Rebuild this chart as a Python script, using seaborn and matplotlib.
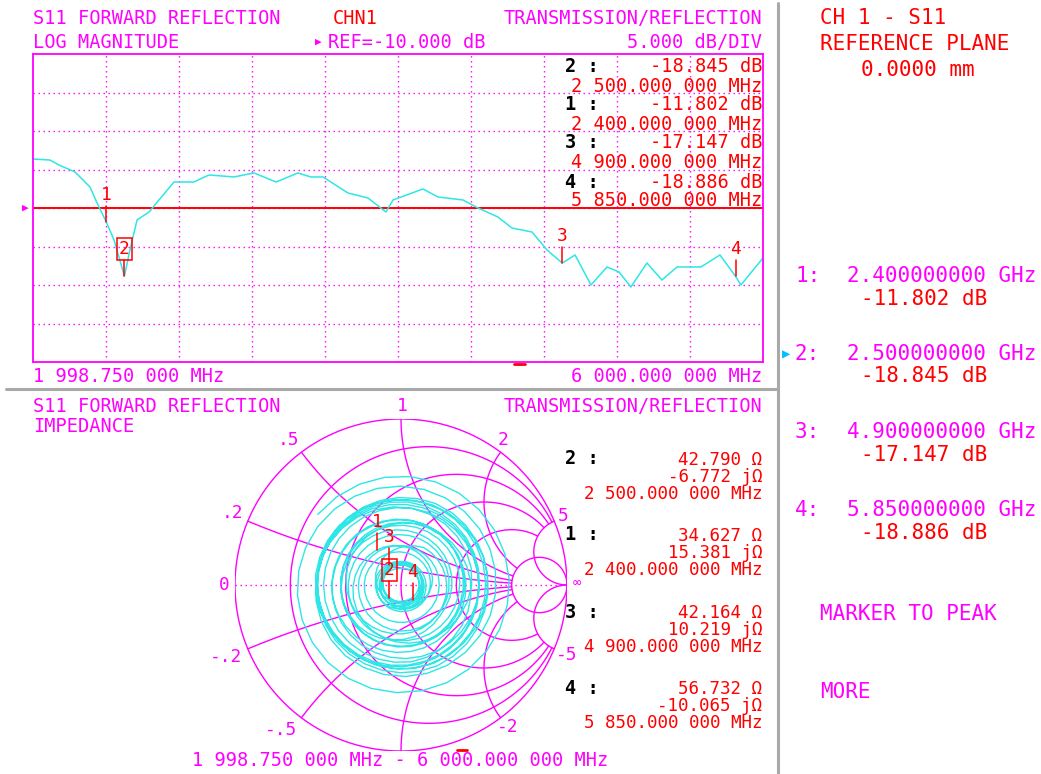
import numpy as np
import pandas as pd
import matplotlib
matplotlib.use("Agg")
import matplotlib.pyplot as plt
import seaborn as sns

# ---------------- data ----------------
start_mhz, stop_mhz = 1998.75, 6000.0
ref_db, db_per_div = -10.0, 5.0

freq_mhz = [1998.75, 2092, 2141, 2229, 2311, 2350, 2400, 2443, 2500, 2530, 2569, 2635,
            2689, 2772, 2881, 2963, 3100, 3210, 3331, 3451, 3522, 3588, 3725, 3835,
            3933, 3972, 4136, 4219, 4356, 4438, 4547, 4624, 4734, 4816, 4900, 4970,
            5057, 5145, 5211, 5276, 5364, 5446, 5529, 5660, 5764, 5850, 5879, 6000]
s11_db = [-3.64, -3.77, -4.42, -5.32, -7.27, -9.35, -11.80, -14.16, -18.85, -15.45, -11.56, -10.52,
          -8.96, -6.62, -6.62, -5.71, -5.97, -5.45, -6.62, -5.45, -5.97, -5.97, -8.05, -8.70,
          -10.52, -8.96, -7.53, -8.57, -8.96, -10.00, -11.17, -12.60, -13.12, -15.45, -17.15, -16.10,
          -20.00, -17.66, -18.31, -20.26, -17.14, -19.35, -17.66, -17.66, -16.10, -18.89, -20.00, -16.49]

marker_ids = ["1", "2", "3", "4"]
marker_freq_mhz = [2400.0, 2500.0, 4900.0, 5850.0]
marker_db = [-11.802, -18.845, -17.147, -18.886]
marker_r_ohm = [34.627, 42.790, 42.164, 56.732]
marker_x_ohm = [15.381, -6.772, 10.219, -10.065]
active_marker = "2"
readout_order = ["2", "1", "3", "4"]

# phase of S11 (unwrapped, degrees) at the trace start and at the markers,
# read from the Smith chart / marker impedances
phase_anchor_mhz = [1998.75, 2400.0, 2500.0, 4900.0, 5850.0, 6000.0]
phase_anchor_deg = [139.7, -955.3, -1212.7, -7078.9, -9410.9, -9778.0]
sweep_points = 801

smith_r_circles = [0.2, 0.5, 1.0, 2.0, 5.0]
smith_x_arcs = [0.2, 0.5, 1.0, 2.0, 5.0]
smith_labels = [("1", 402, 406), (".5", 288, 440), ("2", 503, 440), (".2", 232, 513),
                ("5", 563, 516), ("0", 224, 585), ("\u221e", 577, 583), ("-.2", 226, 657),
                ("-5", 567, 655), ("-.5", 281, 730), ("-2", 508, 727)]

# ---------------- style ----------------
W, H = 1041, 774
MAG = "#FF00FF"
RED = "#FF0000"
CYAN = "#2EE6E6"
GREY = "#A9A9A9"
FS = 13.4
FS_S = 12.6
FS_R = 15.0

sns.set_theme(style="white")
plt.rcParams["font.family"] = ["DejaVu Sans Mono", "DejaVu Sans"]

fig = plt.figure(figsize=(W / 100, H / 100), dpi=100, facecolor="white")


def rect(l, t, r, b):
    return [l / W, 1 - b / H, (r - l) / W, (b - t) / H]


ov = fig.add_axes([0, 0, 1, 1])
ov.set_xlim(0, W)
ov.set_ylim(H, 0)
ov.axis("off")


def T(x, y, s, c=MAG, ha="left", fs=FS, w="normal"):
    ov.text(x, y, s, color=c, ha=ha, va="center", fontsize=fs, fontweight=w)


def fmt_mhz(f):
    s = f"{f:,.6f}".replace(",", " ")
    a, b = s.split(".")
    return f"{a}.{b[:3]} {b[3:]} MHz"


# separators
ov.plot([778, 778], [3, H], color=GREY, lw=2.2)
ov.plot([6, 778], [389, 389], color=GREY, lw=2.2)

# ---------------- top: log magnitude ----------------
ax = fig.add_axes(rect(33, 54, 763, 362))
ax.set_facecolor("none")
ylo, yhi = ref_db - 4 * db_per_div, ref_db + 4 * db_per_div
dots = (0, (1, 2.6))
for i in range(1, 10):
    ax.axvline(start_mhz + i * (stop_mhz - start_mhz) / 10, color=MAG, lw=1, ls=dots)
for j in range(1, 8):
    ax.axhline(ylo + j * db_per_div, color=MAG, lw=1, ls=dots)
ax.axhline(ref_db, color=RED, lw=1.4)
df = pd.DataFrame({"MHz": freq_mhz, "dB": s11_db})
sns.lineplot(data=df, x="MHz", y="dB", ax=ax, color=CYAN, lw=1.1, estimator=None, sort=False)
ax.set_xlim(start_mhz, stop_mhz)
ax.set_ylim(ylo, yhi)
ax.set(xlabel="", ylabel="", xticks=[], yticks=[])
for sp in ax.spines.values():
    sp.set_visible(True)
    sp.set_color(MAG)
    sp.set_linewidth(1.3)

px_per_db = 308 / (8 * db_per_div)
for m, f, d in zip(marker_ids, marker_freq_mhz, marker_db):
    ax.plot([f, f], [d, d + 16 / px_per_db], color=RED, lw=1.1)
    bbox = dict(boxstyle="square,pad=0.12", fc="none", ec=RED, lw=1.1) if m == active_marker else None
    ax.annotate(m, (f, d), xytext=(0, 27), textcoords="offset pixels", ha="center", va="center",
                color=RED, fontsize=FS - 0.5, bbox=bbox)

# top header texts
T(33, 19, "S11 FORWARD REFLECTION")
T(33, 42, "LOG MAGNITUDE")
T(333, 19, "CHN1", RED)
T(318, 42, "\u25B6", MAG, ha="center", fs=8)
T(328, 42, f"REF={ref_db:.3f} dB")
T(762, 19, "TRANSMISSION/REFLECTION", ha="right")
T(762, 42, f"{db_per_div:.3f} dB/DIV", ha="right")
T(25, 208, "\u25B6", MAG, ha="center", fs=8)
T(33, 377, fmt_mhz(start_mhz))
T(762, 377, fmt_mhz(stop_mhz), ha="right")
ov.plot([514, 525], [364, 364], color=RED, lw=2)

num_y = [66, 105, 143, 183]
frq_y = [86, 124, 162, 200]
for k, m in enumerate(readout_order):
    i = marker_ids.index(m)
    T(565, num_y[k], f"{m} :", "black", w="bold")
    T(762, num_y[k], f"{marker_db[i]:.3f} dB", RED, ha="right")
    T(762, frq_y[k], fmt_mhz(marker_freq_mhz[i]), RED, ha="right")

# ---------------- bottom: Smith chart ----------------
axs = fig.add_axes(rect(235, 419, 567, 751))
axs.set_xlim(-1, 1)
axs.set_ylim(-1, 1)
axs.axis("off")


def gam(z):
    return (z - 1) / (z + 1)


th = np.linspace(0, 2 * np.pi, 721)
axs.plot(np.cos(th), np.sin(th), color=MAG, lw=1.0)
for r in smith_r_circles:
    lim = np.pi / 2 - 1e-4 if r == max(smith_r_circles) else np.arctan(max(smith_x_arcs))
    g = gam(r + 1j * np.tan(np.linspace(-lim, lim, 900)))
    axs.plot(g.real, g.imag, color=MAG, lw=1.0)
for x in smith_x_arcs:
    lim = np.pi / 2 - 1e-4 if x == max(smith_x_arcs) else np.arctan(max(smith_r_circles))
    rs = np.tan(np.linspace(0, lim, 900))
    for s in (1, -1):
        g = gam(rs + 1j * s * x)
        axs.plot(g.real, g.imag, color=MAG, lw=1.0)
axs.plot([-1, 1], [0, 0], color=MAG, lw=1, ls=dots)

f_sweep = np.linspace(start_mhz, stop_mhz, sweep_points)
mag = 10 ** (np.interp(f_sweep, freq_mhz, s11_db) / 20)
ph = np.deg2rad(np.interp(f_sweep, phase_anchor_mhz, phase_anchor_deg))
gam_trace = mag * np.exp(1j * ph)
sdf = pd.DataFrame({"re": gam_trace.real, "im": gam_trace.imag})
sns.lineplot(data=sdf, x="re", y="im", ax=axs, color=CYAN, lw=1.0, estimator=None, sort=False)
axs.set_xlim(-1, 1)
axs.set_ylim(-1, 1)
axs.axis("off")

for m, R, X in zip(marker_ids, marker_r_ohm, marker_x_ohm):
    g = gam((R + 1j * X) / 50.0)
    axs.plot([g.real, g.real], [g.imag, g.imag + 17 / 166], color=RED, lw=1.1)
    bbox = dict(boxstyle="square,pad=0.12", fc="none", ec=RED, lw=1.1) if m == active_marker else None
    axs.annotate(m, (g.real, g.imag), xytext=(0, 28), textcoords="offset pixels", ha="center",
                 va="center", color=RED, fontsize=FS - 0.5, bbox=bbox)

for s, x, y in smith_labels:
    T(x, y, s, ha="center", fs=FS - 0.5 if s != "\u221e" else 10)

T(33, 406, "S11 FORWARD REFLECTION")
T(33, 427, "IMPEDANCE")
T(762, 406, "TRANSMISSION/REFLECTION", ha="right")
T(400, 761, f"{fmt_mhz(start_mhz)} - {fmt_mhz(stop_mhz)}", ha="center")
ov.plot([457, 467], [750, 750], color=RED, lw=2)

s_num_y = [459, 535, 612, 688]
s_r_y = [460, 536, 613, 689]
s_x_y = [477, 553, 630, 706]
s_f_y = [494, 570, 647, 723]
for k, m in enumerate(readout_order):
    i = marker_ids.index(m)
    T(565, s_num_y[k], f"{m} :", "black", w="bold")
    T(762, s_r_y[k], f"{marker_r_ohm[i]:.3f} \u03a9", RED, ha="right", fs=FS_S)
    T(762, s_x_y[k], f"{marker_x_ohm[i]:.3f} j\u03a9", RED, ha="right", fs=FS_S)
    T(762, s_f_y[k], fmt_mhz(marker_freq_mhz[i]), RED, ha="right", fs=FS_S)

# ---------------- right: softkey panel ----------------
T(820, 18, "CH 1 - S11", RED, fs=FS_R)
T(820, 44, "REFERENCE PLANE", RED, fs=FS_R)
T(861, 70, "0.0000 mm", RED, fs=FS_R)
r_y = [276, 354, 432, 510]
r_y2 = [299, 376, 455, 533]
for k, m in enumerate(marker_ids):
    T(795, r_y[k], f"{m}:", MAG, fs=FS_R)
    T(847, r_y[k], f"{marker_freq_mhz[k] / 1000:.9f} GHz", MAG, fs=FS_R)
    T(861, r_y2[k], f"{marker_db[k]:.3f} dB", RED, fs=FS_R)
    if m == active_marker:
        T(786, r_y[k], "\u25B6", "#00BFFF", ha="center", fs=10)
T(820, 614, "MARKER TO PEAK", MAG, fs=FS_R)
T(820, 692, "MORE", MAG, fs=FS_R)

fig.savefig("out.png", dpi=100, facecolor="white")
